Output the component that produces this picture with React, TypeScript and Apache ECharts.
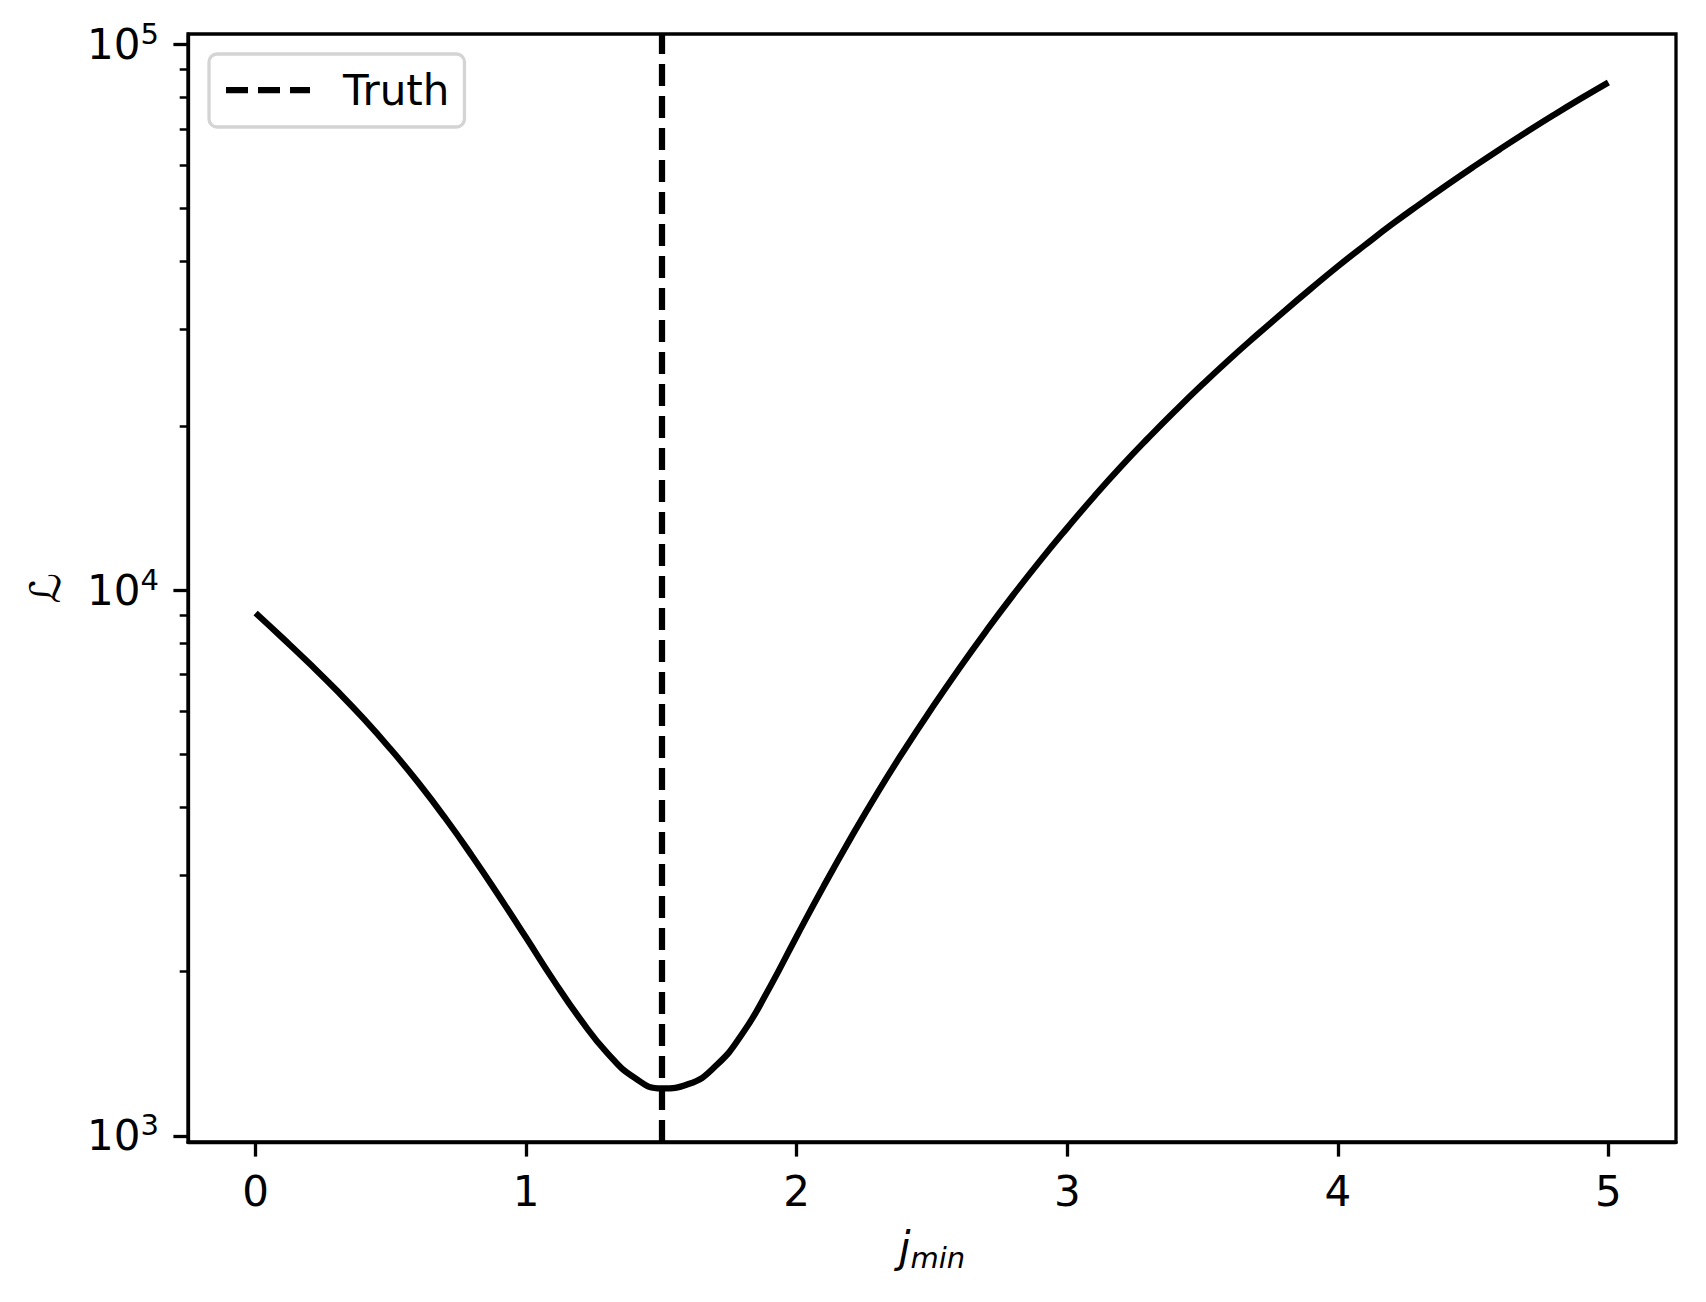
import React, { useEffect, useRef } from "react";
import * as echarts from "echarts";

// ---- data ----
const jmin = [
  0.0, 0.1, 0.2, 0.3, 0.4, 0.5, 0.6, 0.7, 0.8, 0.9,
  1.0, 1.1, 1.2, 1.3, 1.4, 1.5, 1.6, 1.7, 1.8, 1.9,
  2.0, 2.1, 2.2, 2.3, 2.4, 2.5, 2.6, 2.7, 2.8, 2.9,
  3.0, 3.1, 3.2, 3.3, 3.4, 3.5, 3.6, 3.7, 3.8, 3.9,
  4.0, 4.1, 4.2, 4.3, 4.4, 4.5, 4.6, 4.7, 4.8, 4.9,
  5.0,
];
const likelihood = [
  9078, 8166, 7328, 6546, 5808, 5105, 4446, 3828, 3258, 2748,
  2307, 1932, 1637, 1419, 1279, 1222, 1245, 1343, 1542, 1871,
  2323, 2871, 3516, 4266, 5117, 6081, 7178, 8414, 9795, 11324,
  13002, 14859, 16866, 19011, 21330, 23823, 26485, 29309, 32359, 35645,
  39174, 42855, 46774, 50816, 55081, 59566, 64269, 69183, 74302, 79616,
  85114,
];
const truthJmin = 1.5;
const seriesNames = ["L", "Truth"];
const xTicks = [0, 1, 2, 3, 4, 5];
const yMajorTicks = [1000, 10000, 100000];
const yMinorTicks = [
  2000, 3000, 4000, 5000, 6000, 7000, 8000, 9000,
  20000, 30000, 40000, 50000, 60000, 70000, 80000, 90000,
];
const xRange = [-0.25, 5.25];
const yRange = [975, 104400];

const FONT = "DejaVu Sans";
const DASH = [22, 10];

export default function App() {
  const ref = useRef<HTMLDivElement>(null);
  useEffect(() => {
    if (!ref.current) return;
    const chart = echarts.init(ref.current, null, { renderer: "svg" });
    const lineData = jmin.map((x, i) => [x, likelihood[i]]);
    const option: any = {
      animation: false,
      backgroundColor: "#ffffff",
      grid: {
        left: 188,
        right: 30,
        top: 34,
        bottom: 160,
        show: true,
        borderColor: "#000",
        borderWidth: 3.3,
        backgroundColor: "transparent",
      },
      legend: {
        left: 209,
        top: 54,
        orient: "vertical",
        padding: [15, 15, 16, 17],
        borderColor: "#d4d4d4",
        borderWidth: 3.3,
        borderRadius: 8,
        backgroundColor: "rgba(255,255,255,0.8)",
        itemWidth: 84,
        itemHeight: 6.25,
        symbolKeepAspect: false,
        textStyle: {
          fontSize: 42,
          fontFamily: FONT,
          color: "#000",
          padding: [0, 0, 0, 28],
        },
        data: [
          {
            name: seriesNames[1],
            icon: "path://M0,0H22V6H0Z M32,0H54V6H32Z M64,0H84V6H64Z",
            itemStyle: { color: "#000" },
          },
        ],
      },
      xAxis: {
        type: "value",
        min: xRange[0],
        max: xRange[1],
        name: "{j|j}{s|min}",
        nameLocation: "middle",
        nameGap: 80,
        nameTextStyle: {
          rich: {
            j: { fontSize: 42, fontStyle: "italic", fontFamily: FONT, color: "#000", lineHeight: 50 },
            s: { fontSize: 29, fontStyle: "italic", fontFamily: FONT, color: "#000", lineHeight: 29, verticalAlign: "bottom" },
          },
        },
        axisLine: { show: true, onZero: false, lineStyle: { color: "#000", width: 3.3 } },
        axisTick: {
          show: true,
          customValues: xTicks,
          length: 14.6,
          lineStyle: { color: "#000", width: 3.3 },
        },
        axisLabel: {
          show: true,
          customValues: xTicks,
          margin: 28,
          fontSize: 42,
          fontFamily: FONT,
          color: "#000",
        },
        splitLine: { show: false },
      },
      yAxis: [
        {
          type: "log",
          logBase: 10,
          min: yRange[0],
          max: yRange[1],
          position: "left",
          name: "ℒ",
          nameLocation: "middle",
          nameGap: 122,
          nameTextStyle: { fontSize: 42, fontFamily: FONT, fontStyle: "italic", color: "#000" },
          axisLine: { show: true, onZero: false, lineStyle: { color: "#000", width: 3.3 } },
          axisTick: {
            show: true,
            customValues: yMajorTicks,
            length: 14.6,
            lineStyle: { color: "#000", width: 3.3 },
          },
          axisLabel: {
            show: true,
            customValues: yMajorTicks,
            margin: 29,
            formatter: (v: number) => `{b|10}{e|${Math.round(Math.log10(v))}}`,
            rich: {
              b: { fontSize: 42, fontFamily: FONT, color: "#000", lineHeight: 50 },
              e: { fontSize: 29, fontFamily: FONT, color: "#000", lineHeight: 29, verticalAlign: "top" },
            },
          },
          splitLine: { show: false },
          minorTick: { show: false },
        },
        {
          type: "log",
          logBase: 10,
          min: yRange[0],
          max: yRange[1],
          position: "left",
          offset: 0,
          axisLine: { show: false, onZero: false },
          axisTick: {
            show: true,
            customValues: yMinorTicks,
            length: 8.3,
            lineStyle: { color: "#000", width: 2.5 },
          },
          axisLabel: { show: false },
          splitLine: { show: false },
        },
      ],
      series: [
        {
          name: seriesNames[0],
          type: "line",
          data: lineData,
          showSymbol: false,
          symbol: "none",
          smooth: 0.5,
          lineStyle: { color: "#000", width: 6.25, cap: "butt" },
          itemStyle: { color: "#000" },
          z: 3,
        },
        {
          name: seriesNames[1],
          type: "line",
          data: [],
          symbol: "none",
          lineStyle: { color: "#000", width: 6.25, type: DASH },
          itemStyle: { color: "#000" },
          markLine: {
            silent: true,
            symbol: "none",
            label: { show: false },
            lineStyle: { color: "#000", width: 6.25, type: DASH },
            data: [{ xAxis: truthJmin }],
          },
          z: 4,
        },
      ],
    };
    chart.setOption(option);
    return () => chart.dispose();
  }, []);
  return (
    <div
      ref={ref}
      style={{ position: "absolute", left: 0, top: 0, width: 1706, height: 1302 }}
    />
  );
}
